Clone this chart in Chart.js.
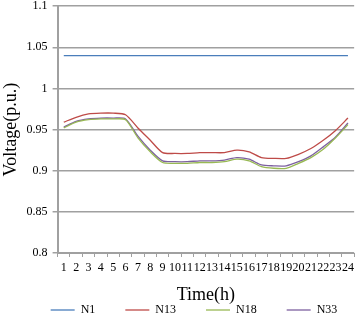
<!DOCTYPE html>
<html>
<head>
<meta charset="utf-8">
<script src="https://cdn.jsdelivr.net/npm/chart.js@4/dist/chart.umd.min.js"></script>
<style>
  html, body { margin: 0; padding: 0; background: #fff; }
  #wrap { width: 358px; height: 324px; }
</style>
</head>
<body>
<div id="wrap"><canvas id="plot1"></canvas></div>
<script>
// hours 1..24
let horas = ["1","2","3","4","5","6","7","8","9","10","11","12","13","14","15","16","17","18","19","20","21","22","23","24"];

let n1 = [1.04,1.04,1.04,1.04,1.04,1.04,1.04,1.04,1.04,1.04,1.04,1.04,1.04,1.04,1.04,1.04,1.04,1.04,1.04,1.04,1.04,1.04,1.04,1.04];
let n13 = [0.959,0.965,0.969,0.970,0.970,0.968,0.952,0.937,0.922,0.921,0.921,0.922,0.922,0.922,0.925,0.923,0.916,0.915,0.915,0.920,0.927,0.937,0.949,0.964];
let n18 = [0.952,0.959,0.962,0.963,0.963,0.962,0.940,0.923,0.910,0.909,0.909,0.910,0.910,0.911,0.914,0.912,0.905,0.903,0.903,0.909,0.916,0.926,0.940,0.956];
let n33 = [0.953,0.960,0.963,0.964,0.964,0.963,0.942,0.925,0.912,0.911,0.911,0.912,0.912,0.913,0.916,0.914,0.907,0.906,0.906,0.911,0.918,0.929,0.941,0.958];

let serie = (label, data, color) => ({
  label: label,
  data: data,
  borderColor: color,
  backgroundColor: color,
  borderWidth: 1.3,
  pointRadius: 0,
  tension: 0.25,
  fill: false,
});

let gris = "#a0a0a0";
let serif = "'Liberation Serif', 'Times New Roman', serif";

//Leyenda: reservar poco alto y moverla como en el original
let ajusteLeyenda = {
  id: "ajusteLeyenda",
  afterInit(chart) {
    let legend = chart.legend;
    let fitOriginal = legend.fit;
    legend.fit = function () {
      fitOriginal.call(this);
      this.height = 18;
    };
  },
  afterLayout(chart) {
    let legend = chart.legend;
    legend.top -= 32;
    legend.height += 32;
    legend.left += 16;
    legend.right += 16;
  },
};

let config = {
  type: "line",
  data: {
    labels: horas,
    datasets: [
      serie("N1", n1, "#4a7ebb"),
      serie("N13", n13, "#be4b48"),
      serie("N18", n18, "#98b954"),
      serie("N33", n33, "#7d60a0"),
    ],
  },
  options: {
    responsive: true,
    maintainAspectRatio: false,
    animation: false,
    layout: { padding: { left: 0, right: 2, top: -9, bottom: 0 } },
    plugins: {
      tooltip: { enabled: false },
      legend: {
        position: "bottom",
        labels: {
          usePointStyle: true,
          pointStyle: "line",
          pointStyleWidth: 24,
          boxHeight: 2,
          padding: 30,
          color: "#000",
          font: { family: serif, size: 12 },
        },
      },
    },
    scales: {
      x: {
        offset: true,
        grid: {
          display: true,
          offset: true,
          drawOnChartArea: false,
          color: gris,
          tickLength: 4,
        },
        border: { color: gris, width: 1 },
        ticks: {
          autoSkip: false,
          maxRotation: 0,
          padding: 4,
          color: "#000",
          font: { family: serif, size: 12 },
        },
        title: {
          display: true,
          text: "Time(h)",
          color: "#000",
          padding: { top: 5, bottom: 0 },
          font: { family: serif, size: 18 },
        },
      },
      y: {
        min: 0.8,
        max: 1.1,
        ticks: {
          stepSize: 0.05,
          color: "#000",
          padding: 5,
          font: { family: serif, size: 12, lineHeight: 0.2 },
          callback: (v) => Math.round(v * 100) / 100,
        },
        grid: { color: gris, lineWidth: 1.5, tickLength: 5 },
        border: { color: gris, width: 2 },
        title: {
          display: true,
          text: "Voltage(p.u.)",
          color: "#000",
          padding: { top: 0, bottom: 0 },
          font: { family: serif, size: 18 },
        },
      },
    },
  },
  plugins: [ajusteLeyenda],
};

let chart1 = new Chart(document.getElementById("plot1"), config);
</script>
</body>
</html>
